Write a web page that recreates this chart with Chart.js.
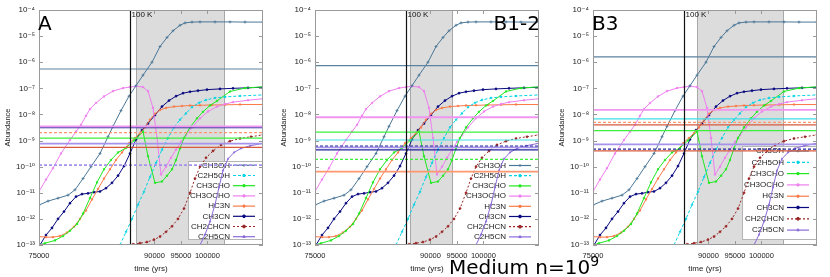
<!DOCTYPE html>
<html>
<head>
<meta charset="utf-8">
<script src="https://cdn.jsdelivr.net/npm/chart.js@4.4.1/dist/chart.umd.min.js"></script>
<style>
  body { margin: 0; width: 830px; height: 277px; overflow: hidden; background: #fff; position: relative; font-family: 'DejaVu Sans', sans-serif; }
  .panel { position: absolute; top: 0; width: 276px; height: 277px; }
  .tag { position: absolute; font-size: 20px; line-height: 20px; color: #000; white-space: nowrap; }
</style>
</head>
<body>
<div class="panel" style="left:0"><canvas id="chartA" width="276" height="277"></canvas></div>
<div class="panel" style="left:276px"><canvas id="chartB" width="276" height="277"></canvas></div>
<div class="panel" style="left:554px"><canvas id="chartC" width="276" height="277"></canvas></div>
<div class="tag" style="left:38px;top:13px">A</div>
<div class="tag" style="right:290px;top:13px">B1-2</div>
<div class="tag" style="left:592px;top:13px">B3</div>
<div class="tag" style="left:449px;top:257px">Medium n=10<span style="font-size:14px;position:relative;top:-8px">9</span></div>
<script>
// axes
const xMin = 68200, xMax = 110490
const xTickValues = [68200, 90000, 95000, 100000]
const xTickLabels = ['75000', '90000', '95000', '100000']
const yTickPowers = [-13, -12, -11, -10, -9, -8, -7, -6, -5, -4]

// model curves (time in yrs, abundance)
const ch3ohT = [68200,69900,71790,73680,75000,76510,78020,79720,81230,82170,83680,85190,86510,87840,89530,91050,92370,93500,94820,95770,97090,98600,101430,104260,107090,110490]
const ch3ohY = [3.4e-12,4.8e-12,6.2e-12,8.1e-12,1.3e-11,3.5e-11,1.0e-10,3.2e-10,1.4e-9,3.5e-9,1.4e-8,5.0e-8,1.26e-7,3.2e-7,1.0e-6,4.0e-6,8.9e-6,1.6e-5,2.6e-5,3.2e-5,3.45e-5,3.5e-5,3.5e-5,3.5e-5,3.45e-5,3.45e-5]
const c2h5ohT = [83490,84630,85760,86890,88020,89160,90290,91420,92560,93690,94820,95950,97090,98410,99730,101430,103320,106150,110490]
const c2h5ohY = [1.0e-13,3.2e-13,1.0e-12,3.5e-12,1.1e-11,4.0e-11,1.4e-10,4.5e-10,1.26e-9,3.2e-9,6.3e-9,1.1e-8,1.9e-8,2.8e-8,3.6e-8,4.3e-8,4.7e-8,5.1e-8,5.6e-8]
const ch3choT = [68200,69330,71220,72730,74050,75370,76510,77830,79150,80470,81790,83120,84630,86140,87840,88780,90100,91420,92370,93310,94070,94820,95580,96710,98030,99160,100480,101810,104260,107090,110490]
const ch3choY = [1.0e-13,1.17e-13,1.5e-13,2.2e-13,3.5e-13,6.3e-13,1.6e-12,6.3e-12,2.5e-11,7.9e-11,1.8e-10,3.5e-10,5.2e-10,1.0e-9,2.2e-9,2.5e-10,2.4e-11,2.7e-11,4.5e-11,7.9e-11,1.8e-10,5.0e-10,1.26e-9,3.2e-9,7.1e-9,1.26e-8,2.2e-8,3.3e-8,7.6e-8,1.02e-7,1.15e-7]
const ch3ochoT = [68200,69520,70840,72350,74050,75190,76130,77070,77830,78960,80470,82170,84060,85380,86510,87840,88780,89720,90480,91230,92180,93120,94070,95010,95950,97090,98600,100110,101810,103320,104830,107660,110490]
const ch3ochoY = [1.12e-11,3.2e-11,8.7e-11,3.2e-10,1.05e-9,2.2e-9,4.0e-9,8.9e-9,1.6e-8,2.75e-8,4.9e-8,7.8e-8,1.02e-7,1.12e-7,1.2e-7,1.12e-7,7.8e-8,1.8e-8,1.26e-9,5.0e-11,1.0e-10,2.2e-10,4.5e-10,8.9e-10,1.6e-9,3.2e-9,7.1e-9,1.3e-8,2.0e-8,2.5e-8,2.95e-8,3.5e-8,4.0e-8]
const hc3nT = [68200,69520,70840,72160,73490,74810,75940,77070,78210,79340,80470,81600,82740,83870,85190,86320,87270,88210,89160,90100,91050,92180,93690,95200,96710,98600,100860,103320,106150,110490]
const hc3nY = [2.1e-13,2.0e-13,2.0e-13,2.2e-13,3.0e-13,5.0e-13,1.0e-12,2.1e-12,5.6e-12,1.4e-11,3.5e-11,7.9e-11,1.8e-10,3.5e-10,7.9e-10,1.26e-9,1.9e-9,3.2e-9,6.3e-9,1.07e-8,1.48e-8,1.78e-8,2.0e-8,2.1e-8,2.2e-8,2.24e-8,2.3e-8,2.34e-8,2.4e-8,2.4e-8]
const ch3cnT = [68390,69520,70650,71790,72920,74050,75190,76320,77450,78580,79720,80850,81980,83120,84250,85380,86510,87650,88780,90100,91420,92740,94070,95390,96710,98220,99920,102370,104830,107660,110490]
const ch3cnY = [1.0e-13,2.4e-13,4.5e-13,1.0e-12,1.9e-12,4.0e-12,7.1e-12,8.9e-12,9.5e-12,1.05e-11,1.12e-11,1.5e-11,2.4e-11,4.5e-11,1.05e-10,3.2e-10,1.1e-9,2.5e-9,4.5e-9,9.5e-9,2.0e-8,3.4e-8,5.0e-8,6.5e-8,7.4e-8,8.1e-8,8.9e-8,9.5e-8,1.0e-7,1.05e-7,1.1e-7]
const ch2chcnT = [85950,87270,88590,89910,91050,92180,93310,94440,95580,96710,97650,98600,99730,101050,102560,104260,106150,108230,110490]
const ch2chcnY = [1.07e-13,1.17e-13,1.3e-13,1.6e-13,2.1e-13,3.2e-13,5.2e-13,1.0e-12,2.5e-12,1.0e-11,3.5e-11,1.0e-10,2.2e-10,4.0e-10,6.8e-10,9.5e-10,1.2e-9,1.4e-9,1.66e-9]
const c2h5cnT = [98600,99540,100480,101430,102180,102940,103880,105020,106340,108040,110490]
const c2h5cnY = [1.0e-13,2.5e-13,7.9e-13,3.5e-12,1.6e-11,7.1e-11,2.0e-10,3.5e-10,5.0e-10,6.3e-10,7.9e-10]

// observed abundances per panel (horizontal lines); limit = dashed
const obsSpeciesA = ['CH3OH','CH3OCHO','CH3CN','HC3N','CH3CHO','C2H5CN','CH2CHCN','C2H5CN']
const obsValueA = [5.5e-7, 3.5e-9, 3.1e-9, 2.0e-9, 1.23e-9, 7.6e-10, 5.5e-10, 1.15e-10]
const obsLimitA = [false, false, false, true, false, false, false, true]
const obsSpeciesB = ['CH3OH','CH3OCHO','CH3CHO','C2H5OH','CH3CN','C2H5CN','CH3CN','CH3CHO','HC3N']
const obsValueB = [7.4e-7, 7.8e-9, 2.1e-9, 1.05e-9, 6.2e-10, 5.5e-10, 4.4e-10, 1.9e-10, 6.5e-11]
const obsLimitB = [false, false, false, false, true, false, false, true, false]
const obsSpeciesC = ['CH3OH','CH3OCHO','C2H5OH','HC3N','CH2CHCN','CH3CHO','C2H5CN','CH3CN','CH2CHCN']
const obsValueC = [1.6e-6, 1.5e-8, 6.8e-9, 5.0e-9, 4.0e-9, 2.4e-9, 7.1e-10, 4.7e-10, 4.0e-10]
const obsLimitC = [false, false, false, true, false, false, false, true, false]

// warm phase (grey band) and 100 K mark
const warmStart = [86510, 86140, 87840]
const warmEnd = [103130, 94070, 104070]
const hotLine = 85290

const models = [
    { label: 'CH3OH', t: ch3ohT, y: ch3ohY },
    { label: 'C2H5OH', t: c2h5ohT, y: c2h5ohY },
    { label: 'CH3CHO', t: ch3choT, y: ch3choY },
    { label: 'CH3OCHO', t: ch3ochoT, y: ch3ochoY },
    { label: 'HC3N', t: hc3nT, y: hc3nY },
    { label: 'CH3CN', t: ch3cnT, y: ch3cnY },
    { label: 'CH2CHCN', t: ch2chcnT, y: ch2chcnY },
    { label: 'C2H5CN', t: c2h5cnT, y: c2h5cnY }
]

const lineColor = {
    CH3OH: '#4b7797', C2H5OH: '#00d4e4', CH3CHO: '#1fe81f', CH3OCHO: '#ee7fee',
    HC3N: '#fa7a48', CH3CN: '#0a0a80', CH2CHCN: '#9a2626', C2H5CN: '#8a6ad8'
}
const obsColor = {
    CH3OH: '#5b82a0', C2H5OH: '#40dfe6', CH3CHO: '#3cf03c', CH3OCHO: '#f096f0',
    HC3N: '#ff9870', CH3CN: '#22229a', CH2CHCN: '#d85a3c', C2H5CN: '#a592ea'
}
const markOf = {
    CH3OH: 'cross', C2H5OH: 'rect', CH3CHO: 'rect', CH3OCHO: 'rect',
    HC3N: 'rect', CH3CN: 'circle', CH2CHCN: 'circle', C2H5CN: 'triangle'
}
const dashOf = { C2H5OH: [3, 2], CH2CHCN: [2, 2] }

const legendBoxes = [
    { left: 149, top: 151, bottom: 230, first: 4.3, row: 10.2, border: true },
    { left: 151, top: 152, bottom: 230, first: 3.5, row: 10.2, border: false },
    { left: 149, top: 136, bottom: 230, first: 5, row: 11.3, border: true }
]

const sup = { '-': '\u207B', '0': '\u2070', '1': '\u00B9', '2': '\u00B2', '3': '\u00B3', '4': '\u2074', '5': '\u2075', '6': '\u2076', '7': '\u2077', '8': '\u2078', '9': '\u2079' }
function power(p) {
    return '10' + String(p).split('').map(c => sup[c]).join('')
}

function drawLegend(chart, lg) {
    const { ctx, chartArea: a } = chart
    const left = a.left + lg.left, top = a.top + lg.top, bottom = a.top + lg.bottom
    ctx.save()
    ctx.fillStyle = '#fff'
    ctx.fillRect(left, top, a.right - left, bottom - top)
    if (lg.border) {
        ctx.strokeStyle = '#b4b4b4'
        ctx.lineWidth = 1
        ctx.strokeRect(Math.round(left) + 0.5, Math.round(top) + 0.5, a.right - left - 1, bottom - top - 1)
    }
    ctx.font = '8px "Liberation Sans", Arial, sans-serif'
    ctx.textAlign = 'right'
    ctx.textBaseline = 'middle'
    chart.data.datasets.filter(d => !d.obs).forEach((d, i) => {
        const y = top + lg.first + i * lg.row
        ctx.fillStyle = '#222'
        ctx.fillText(d.label, a.left + 191, y)
        ctx.strokeStyle = d.borderColor
        ctx.fillStyle = d.borderColor
        ctx.lineWidth = 1.2
        ctx.setLineDash(d.borderDash || [])
        ctx.beginPath()
        ctx.moveTo(a.left + 194, y)
        ctx.lineTo(a.left + 216, y)
        ctx.stroke()
        ctx.setLineDash([])
        ctx.lineWidth = 1
        Chart.helpers.drawPoint(ctx, { pointStyle: d.pointStyle, radius: 1.4, borderWidth: 1, rotation: 0 }, a.left + 205, y)
    })
    ctx.restore()
}

const decor = {
    id: 'decor',
    beforeDatasetsDraw(chart, args, opts) {
        const { ctx, chartArea: a, scales: { x } } = chart
        const x0 = Math.round(x.getPixelForValue(opts.warm[0])) + 0.5
        const x1 = Math.round(x.getPixelForValue(opts.warm[1])) + 0.5
        ctx.save()
        ctx.fillStyle = '#dcdcdc'
        ctx.fillRect(x0, a.top, x1 - x0, a.bottom - a.top)
        ctx.strokeStyle = '#a8a8a8'
        ctx.lineWidth = 1
        ctx.beginPath()
        ctx.moveTo(x0, a.top); ctx.lineTo(x0, a.bottom)
        ctx.moveTo(x1, a.top); ctx.lineTo(x1, a.bottom)
        ctx.stroke()
        ctx.restore()
        chart.$legendDone = false
    },
    beforeDatasetDraw(chart, args, opts) {
        if (chart.data.datasets[args.index].obs || chart.$legendDone) return
        chart.$legendDone = true
        drawLegend(chart, opts.legend)
    },
    afterDatasetsDraw(chart, args, opts) {
        const { ctx, chartArea: a, scales: { x, y } } = chart
        ctx.save()
        // 100 K line
        const xh = Math.round(x.getPixelForValue(opts.hot)) + 0.5
        ctx.strokeStyle = '#111'
        ctx.lineWidth = 1.2
        ctx.beginPath(); ctx.moveTo(xh, a.top); ctx.lineTo(xh, a.bottom); ctx.stroke()
        ctx.fillStyle = '#111'
        ctx.font = '8px "Liberation Sans", Arial, sans-serif'
        ctx.textBaseline = 'top'
        ctx.fillText('100 K', xh + 1, a.top + 1)
        // frame and inward ticks
        ctx.strokeStyle = '#9a9a9a'
        ctx.lineWidth = 1
        ctx.strokeRect(a.left + 0.5, a.top + 0.5, a.right - a.left - 1, a.bottom - a.top - 1)
        ctx.beginPath()
        yTickPowers.forEach(p => {
            const py = Math.round(y.getPixelForValue(Math.pow(10, p))) + 0.5
            ctx.moveTo(a.left, py); ctx.lineTo(a.left + 4, py)
            ctx.moveTo(a.right, py); ctx.lineTo(a.right - 4, py)
        })
        xTickValues.slice(1).forEach(v => {
            const px = Math.round(x.getPixelForValue(v)) + 0.5
            ctx.moveTo(px, a.bottom); ctx.lineTo(px, a.bottom - 4)
            ctx.moveTo(px, a.top); ctx.lineTo(px, a.top + 4)
        })
        ctx.stroke()
        ctx.restore()
    }
}

function makeChart(id, obsSpecies, obsValue, obsLimit, i) {
    const obsSets = obsSpecies.map((s, k) => ({
        obs: true,
        data: [{ x: xMin, y: obsValue[k] }, { x: xMax, y: obsValue[k] }],
        borderColor: obsColor[s],
        borderWidth: (s === 'CH3OCHO' || s === 'C2H5CN' || (s === 'HC3N' && !obsLimit[k])) ? 1.8 : 1.2,
        borderDash: obsLimit[k] ? [3, 2] : [],
        pointRadius: 0,
        order: 0
    }))
    const modelSets = models.map(m => ({
        label: m.label,
        data: m.t.map((t, k) => ({ x: t, y: m.y[k] })),
        borderColor: lineColor[m.label],
        backgroundColor: lineColor[m.label],
        pointBackgroundColor: lineColor[m.label],
        pointBorderColor: lineColor[m.label],
        pointStyle: markOf[m.label],
        pointRadius: markOf[m.label] === 'cross' ? 1.5 : 1.1,
        pointBorderWidth: markOf[m.label] === 'cross' ? 0.8 : 0.5,
        borderWidth: 1,
        borderDash: dashOf[m.label] || [],
        order: 1
    }))
    return new Chart(document.getElementById(id), {
        type: 'line',
        data: { datasets: obsSets.concat(modelSets) },
        plugins: [decor],
        options: {
            responsive: false,
            animation: false,
            devicePixelRatio: 1,
            layout: { padding: { left: 0, right: 13, top: 10, bottom: 0 } },
            elements: { line: { tension: 0 } },
            plugins: {
                legend: { display: false },
                tooltip: { enabled: false },
                decor: { warm: [warmStart[i], warmEnd[i]], hot: hotLine, legend: legendBoxes[i] }
            },
            scales: {
                x: {
                    type: 'linear',
                    min: xMin,
                    max: xMax,
                    grid: { display: false, drawTicks: false },
                    border: { display: false },
                    afterBuildTicks: s => { s.ticks = xTickValues.map(v => ({ value: v })) },
                    afterFit: s => { s.height = 32 },
                    ticks: {
                        callback: (v, k) => xTickLabels[k],
                        autoSkip: false,
                        maxRotation: 0,
                        padding: 6,
                        color: '#222',
                        font: { family: '"Liberation Sans", Arial, sans-serif', size: 7.5 }
                    },
                    title: {
                        display: true,
                        text: 'time (yrs)',
                        color: '#222',
                        padding: { top: 0, bottom: 3 },
                        font: { family: '"Liberation Sans", Arial, sans-serif', size: 8 }
                    }
                },
                y: {
                    type: 'logarithmic',
                    min: 1e-13,
                    max: 1e-4,
                    grid: { display: false, drawTicks: false },
                    border: { display: false },
                    afterBuildTicks: s => { s.ticks = yTickPowers.map(p => ({ value: Math.pow(10, p) })) },
                    afterFit: s => { s.width = 39 },
                    ticks: {
                        callback: v => power(Math.round(Math.log10(v))),
                        padding: 4,
                        color: '#222',
                        font: { family: '"Liberation Sans", "DejaVu Sans", sans-serif', size: 8 }
                    },
                    title: {
                        display: true,
                        text: 'Abundance',
                        color: '#222',
                        padding: { top: 3, bottom: 0 },
                        font: { family: '"Liberation Sans", Arial, sans-serif', size: 7.5 }
                    }
                }
            }
        }
    })
}

makeChart('chartA', obsSpeciesA, obsValueA, obsLimitA, 0)
makeChart('chartB', obsSpeciesB, obsValueB, obsLimitB, 1)
makeChart('chartC', obsSpeciesC, obsValueC, obsLimitC, 2)
</script>
</body>
</html>
